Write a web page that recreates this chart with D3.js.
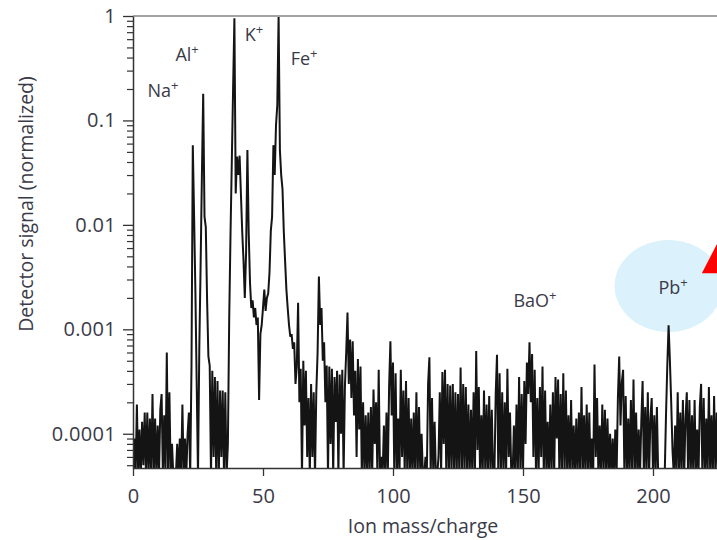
<!DOCTYPE html>
<html>
<head>
<meta charset="utf-8">
<script src="https://cdn.jsdelivr.net/npm/d3@7"></script>
<style>
  html, body { margin: 0; padding: 0; background: #fff; }
  svg { display: block; font-family: "Open Sans", sans-serif; }
</style>
</head>
<body>
<svg id="chart" width="717" height="540"></svg>
<script>
// Mass spectrum: normalized detector signal sampled every 0.5 m/z from 0.
const massStart = 0;
const massStep = 0.5;
const signal = [
  4e-5, 9e-5, 4e-5, 1.9e-4, 4e-5, 1.1e-4, 4e-5, 1.3e-4, 5e-5, 1.6e-4,        // 0
  4e-5, 1.6e-4, 4e-5, 1.4e-4, 4e-5, 2.4e-4, 4e-5, 1.4e-4, 4e-5, 1.2e-4,      // 5
  4e-5, 1.7e-4, 2.4e-4, 4e-5, 1.5e-4, 4e-5, 6e-4, 4e-5, 2.5e-4, 4e-5,        // 10
  8e-5, 4e-5, 4e-5, 4e-5, 8e-5, 4e-5, 9e-5, 4e-5, 1.9e-4, 4e-5,             // 15
  9e-5, 4e-5, 1e-4, 1.6e-4, 4e-5, 4.5e-4, 0.058, 0.012, 2.3e-3, 3e-4,       // 20
  4e-5, 6.5e-4, 4e-3, 0.03, 0.18, 0.012, 9.5e-3, 1.9e-3, 5.5e-4, 4.5e-4,    // 25
  4e-5, 4e-4, 6e-5, 3.5e-4, 4e-5, 3.2e-4, 4e-5, 2.6e-4, 6e-5, 2.6e-4,       // 30
  4e-5, 2.5e-4, 4e-5, 8e-5, 1.25e-3, 8e-3, 0.04, 0.2, 0.95, 0.02,           // 35
  0.045, 0.03, 0.046, 0.02, 8.7e-3, 4.6e-3, 2e-3, 5.5e-3, 0.052, 8.5e-3,    // 40
  2.8e-3, 1.6e-3, 1.9e-3, 1.3e-3, 1.6e-3, 1.1e-3, 1.3e-3, 2.1e-4, 9e-4, 1.1e-3, // 45
  1.6e-3, 2.4e-3, 1.5e-3, 2e-3, 2.2e-3, 3.5e-3, 8.7e-3, 0.012, 0.058, 0.03, // 50
  0.09, 0.14, 1.0, 0.052, 0.03, 0.022, 8.6e-3, 4.5e-3, 2.4e-3, 1.6e-3,      // 55
  1.1e-3, 8.5e-4, 9e-4, 6.5e-4, 7.5e-4, 3e-4, 4.4e-4, 1.8e-3, 2e-4, 4.2e-4, // 60
  4e-5, 5e-4, 1.2e-4, 4e-4, 6e-5, 2.2e-4, 4e-5, 3e-4, 6e-5, 2.5e-4,         // 65
  4e-5, 2.5e-4, 6e-4, 3.2e-3, 1.1e-3, 1.6e-3, 5e-4, 7.5e-4, 2e-4, 4.5e-4,   // 70
  4e-5, 4.4e-4, 8e-5, 4.2e-4, 4e-5, 3.5e-4, 1.3e-4, 4e-4, 4e-5, 3.7e-4,     // 75
  1e-4, 4.1e-4, 4e-5, 2.8e-4, 6e-4, 1.45e-3, 3e-4, 8e-4, 2.2e-4, 7.7e-4,    // 80
  1.5e-4, 4e-4, 6e-5, 5.2e-4, 1.1e-4, 4.4e-4, 4e-5, 2e-4, 4e-5, 1.5e-4,     // 85
  4e-5, 1.6e-4, 4e-5, 1.8e-4, 4e-5, 2.65e-4, 8e-5, 2e-4, 4e-5, 4.1e-4,      // 90
  4e-5, 6e-5, 4e-5, 1.2e-4, 4e-5, 1.6e-4, 4e-5, 2.8e-4, 7.7e-4, 1.5e-4,     // 95
  4.8e-4, 4e-5, 3.8e-4, 4e-5, 1.4e-4, 4e-5, 4.1e-4, 6e-5, 2.6e-4, 4e-5,     // 100
  3.2e-4, 4e-5, 2.2e-4, 4e-5, 1.4e-4, 4e-5, 1.6e-4, 4e-5, 2.5e-4, 4e-5,     // 105
  1.8e-4, 4e-5, 1e-4, 4e-5, 4e-5, 6e-5, 4e-5, 3e-4, 5.4e-4, 4e-5,           // 110
  2.2e-4, 4e-5, 1.3e-4, 4e-5, 4e-5, 6e-5, 2.5e-4, 4e-5, 3.9e-4, 8e-5,       // 115
  4.1e-4, 4e-5, 3e-4, 4e-5, 2.9e-4, 4e-5, 3e-4, 4e-5, 2.5e-4, 4e-5,         // 120
  2.4e-4, 4e-5, 4.3e-4, 4e-5, 3e-4, 4e-5, 2.8e-4, 4e-5, 1.9e-4, 4e-5,       // 125
  1.7e-4, 4e-5, 2.5e-4, 4e-5, 6.2e-4, 7e-5, 2.8e-4, 4e-5, 1.5e-4, 4e-5,     // 130
  2.6e-4, 4e-5, 1.9e-4, 4e-5, 2.3e-4, 4e-5, 1.7e-4, 4e-5, 4e-5, 2.4e-4,     // 135
  5.7e-4, 4e-5, 3.8e-4, 4e-5, 2.5e-4, 4e-5, 2e-4, 4e-5, 4.2e-4, 6e-5,       // 140
  1.6e-4, 4e-5, 4e-5, 1.2e-4, 4e-5, 1.9e-4, 4e-5, 3.5e-4, 4e-5, 2.4e-4,     // 145
  4e-5, 3.2e-4, 8e-5, 4.8e-4, 2.4e-4, 7.5e-4, 2e-4, 5.8e-4, 6e-5, 4.1e-4,   // 150
  4e-5, 2.2e-4, 4e-5, 2.8e-4, 6e-5, 4.4e-4, 4e-5, 2.6e-4, 4e-5, 1.3e-4,     // 155
  4e-5, 1.9e-4, 4e-5, 2.5e-4, 4e-5, 3.5e-4, 9e-5, 3.3e-4, 4e-5, 2.4e-4,     // 160
  4e-5, 3.8e-4, 4e-5, 2.6e-4, 4e-5, 1.5e-4, 4e-5, 2.1e-4, 4e-5, 1.2e-4,     // 165
  4e-5, 1.4e-4, 4e-5, 1.6e-4, 4e-5, 2.8e-4, 4e-5, 1.5e-4, 4e-5, 1.9e-4,     // 170
  4e-5, 1.6e-4, 4e-5, 9e-5, 4e-5, 4.6e-4, 6e-5, 2.2e-4, 4e-5, 1.2e-4,       // 175
  4e-5, 1.9e-4, 4e-5, 1.7e-4, 4e-5, 1.4e-4, 4e-5, 1e-4, 4e-5, 9e-5,         // 180
  4e-5, 1.1e-4, 4e-5, 2.2e-4, 5.5e-4, 1.2e-4, 3.1e-4, 4.1e-4, 4e-5, 2.3e-4, // 185
  4e-5, 1.4e-4, 4e-5, 2.1e-4, 4e-5, 3.3e-4, 4e-5, 1.6e-4, 4e-5, 1.1e-4,     // 190
  4e-5, 1.3e-4, 3.2e-4, 4e-5, 1.8e-4, 4e-5, 2.5e-4, 4e-5, 1.4e-4, 2.2e-4,   // 195
  4e-5, 1.5e-4, 4e-5, 1.8e-4, 4e-5, 4e-5, 4e-5, 4e-5, 4e-5, 4e-5,           // 200
  1.5e-4, 4.5e-4, 1.09e-3, 5e-4, 2e-4, 7e-5, 4e-5, 1.2e-4, 4e-5, 2.5e-4,    // 205
  4e-5, 1.6e-4, 4e-5, 2.1e-4, 4e-5, 1.4e-4, 2.5e-4, 4e-5, 2.1e-4, 4e-5,     // 210
  1.5e-4, 4e-5, 2.1e-4, 4e-5, 1.1e-4, 4e-5, 1.8e-4, 3e-4, 4e-5, 2.2e-4,     // 215
  4e-5, 1.4e-4, 4e-5, 2.8e-4, 4e-5, 1.5e-4, 4e-5, 2.3e-4, 4e-5, 1.6e-4,     // 220
  4e-5                                                                       // 225
];

// Axis ticks
const xTicks = [0, 50, 100, 150, 200];
const yTicks = [1, 0.1, 0.01, 0.001, 0.0001];
const yTickLabels = ["1", "0.1", "0.01", "0.001", "0.0001"];

// Peak annotations: ion name, label centre (m/z) and label baseline (signal)
const ionNames = ["Na", "Al", "K", "Fe", "BaO", "Pb"];
const ionLabelMass = [11.5, 20.8, 46.5, 65.8, 154.6, 207.7];
const ionLabelSignal = [0.166, 0.369, 0.575, 0.338, 1.63e-3, 2.17e-3];

// Highlight around the lead peak and the pointer beside it
const highlightMass = 206, highlightSignal = 2.6e-3;
const pointerMass = 218.8, pointerSignal = 3.45e-3;

const svg = d3.select("#chart");
const x = d3.scaleLinear().domain([0, 250]).range([133, 783]);
const y = d3.scaleLog().domain([4.7e-5, 1]).range([468, 16]);

const points = signal.map((v, i) => [massStart + i * massStep, v]);

svg.append("defs").append("clipPath").attr("id", "plotClip")
  .append("rect").attr("x", 133).attr("y", 10).attr("width", 650).attr("height", 458);

// Highlight ellipse behind the spectrum
svg.append("ellipse")
  .attr("cx", x(highlightMass)).attr("cy", y(highlightSignal))
  .attr("rx", 54).attr("ry", 46)
  .attr("fill", "#dbf1fb");

// Pointer triangle
const px0 = x(pointerMass), py0 = y(pointerSignal);
svg.append("polygon")
  .attr("points", [[px0, py0], [px0 + 28, py0 - 54], [px0 + 56, py0]].map(p => p.join(",")).join(" "))
  .attr("fill", "#ff0000");

// Spectrum trace
svg.append("path")
  .datum(points)
  .attr("clip-path", "url(#plotClip)")
  .attr("fill", "none")
  .attr("stroke", "#141414")
  .attr("stroke-width", 2)
  .attr("stroke-linejoin", "bevel")
  .attr("d", d3.line().x(d => x(d[0])).y(d => y(d[1])));

// Top frame line
svg.append("line")
  .attr("x1", 133).attr("x2", 717).attr("y1", 16).attr("y2", 16)
  .attr("stroke", "#a3a3a3").attr("stroke-width", 2);

const textColor = "#3a3a48";

// Y axis: major ticks with labels
const yAxis = svg.append("g").attr("transform", "translate(133,0)")
  .call(d3.axisLeft(y).tickValues(yTicks)
    .tickFormat((d, i) => yTickLabels[i])
    .tickSize(10).tickPadding(7).tickSizeOuter(0));
yAxis.select(".domain").attr("stroke", "#333").attr("stroke-width", 1.5);
yAxis.selectAll(".tick line").attr("stroke", "#333").attr("stroke-width", 1.3);
yAxis.selectAll(".tick text").attr("font-size", 20).attr("fill", textColor)
  .attr("letter-spacing", 0.3)
  .attr("font-family", "Open Sans, sans-serif");

// Y axis: minor ticks
const minorTicks = [];
[1e-5, 1e-4, 1e-3, 1e-2, 1e-1].forEach(dec => {
  for (let k = 2; k <= 9; k++) {
    const v = dec * k;
    if (v >= 4.7e-5 && v < 1) minorTicks.push(v);
  }
});
const yMinor = svg.append("g").attr("transform", "translate(133,0)")
  .call(d3.axisLeft(y).tickValues(minorTicks).tickFormat("").tickSize(6).tickSizeOuter(0));
yMinor.select(".domain").remove();
yMinor.selectAll(".tick line").attr("stroke", "#333").attr("stroke-width", 1.2);

// X axis
const xAxis = svg.append("g").attr("transform", "translate(0,468)")
  .call(d3.axisBottom(x).tickValues(xTicks).tickSize(8).tickPadding(13).tickSizeOuter(0));
xAxis.select(".domain").attr("stroke", "#333").attr("stroke-width", 1.5);
xAxis.selectAll(".tick line").attr("stroke", "#333").attr("stroke-width", 1.3);
xAxis.selectAll(".tick text").attr("font-size", 20).attr("fill", textColor)
  .attr("font-family", "Open Sans, sans-serif");

// Axis titles
svg.append("text")
  .attr("x", 423).attr("y", 533)
  .attr("text-anchor", "middle")
  .attr("font-size", 19.5).attr("fill", textColor)
  .text("Ion mass/charge");

svg.append("text")
  .attr("transform", "translate(33,204) rotate(-90)")
  .attr("text-anchor", "middle")
  .attr("font-size", 19.5).attr("fill", textColor)
  .text("Detector signal (normalized)");

// Ion labels with superscript charge
ionNames.forEach((name, i) => {
  const t = svg.append("text")
    .attr("x", x(ionLabelMass[i])).attr("y", y(ionLabelSignal[i]))
    .attr("text-anchor", "middle")
    .attr("font-size", 18).attr("fill", textColor);
  t.append("tspan").text(name);
  t.append("tspan").attr("dy", -7).attr("font-size", 13).text("+");
});
</script>
</body>
</html>
